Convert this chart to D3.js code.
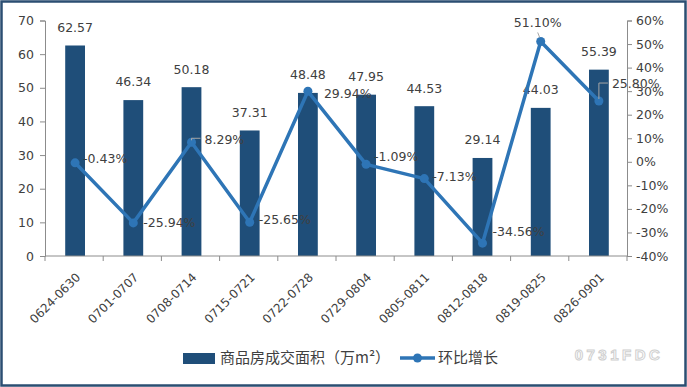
<!DOCTYPE html>
<html>
<head>
<meta charset="utf-8">
<script src="https://cdn.jsdelivr.net/npm/d3@7"></script>
<style>
  body { margin: 0; background: #fff; }
  svg { display: block; }
</style>
</head>
<body>
<div id="chart"></div>
<script>
// data
const weeks = ['0624-0630', '0701-0707', '0708-0714', '0715-0721', '0722-0728',
               '0729-0804', '0805-0811', '0812-0818', '0819-0825', '0826-0901'];
const area = [62.57, 46.34, 50.18, 37.31, 48.48, 47.95, 44.53, 29.14, 44.03, 55.39];
const growth = [-0.43, -25.94, 8.29, -25.65, 29.94, -1.09, -7.13, -34.56, 51.10, 25.80];
const leftTicks = [0, 10, 20, 30, 40, 50, 60, 70];
const rightTicks = [-40, -30, -20, -10, 0, 10, 20, 30, 40, 50, 60];

const width = 687, height = 387;
const margin = { top: 20.5, right: 60, bottom: 131, left: 45 };
const barColor = '#1f4e79';
const lineColor = '#2e75b6';
const textColor = '#404040';
const axisColor = '#8c8c8c';
const numFont = '"DejaVu Sans", Verdana, sans-serif';
const cjkFont = '"Noto Sans CJK SC", "Noto Sans", sans-serif';

const svg = d3.select('#chart')
    .append('svg')
    .attr('width', width)
    .attr('height', height);

// outer frame
svg.append('rect')
    .attr('x', 1.5).attr('y', 1.5)
    .attr('width', width - 3).attr('height', height - 3)
    .attr('fill', '#fff')
    .attr('stroke', '#2b4e72')
    .attr('stroke-width', 2.5);

const x = d3.scaleBand()
    .domain(weeks)
    .range([margin.left, width - margin.right]);

const yL = d3.scaleLinear().domain([0, 70]).range([height - margin.bottom, margin.top]);
const yR = d3.scaleLinear().domain([-40, 60]).range([height - margin.bottom, margin.top]);

const barW = x.bandwidth() * 0.34;
const cx = d => x(d) + x.bandwidth() / 2 + 1;

// left axis
const axL = svg.append('g')
    .attr('transform', `translate(${margin.left},0)`)
    .call(d3.axisLeft(yL).tickValues(leftTicks).tickSize(5).tickPadding(6));
// right axis
const axR = svg.append('g')
    .attr('transform', `translate(${width - margin.right},0)`)
    .call(d3.axisRight(yR).tickValues(rightTicks).tickSize(5).tickPadding(4)
        .tickFormat(d => d + '%'));
[axL, axR].forEach(g => {
    g.select('.domain').attr('stroke', axisColor);
    g.selectAll('.tick line').attr('stroke', axisColor);
    g.selectAll('.tick text')
        .attr('fill', textColor)
        .style('font-family', numFont)
        .style('font-size', '12.5px');
});

// bars
svg.append('g').selectAll('rect')
    .data(weeks)
    .join('rect')
    .attr('x', d => cx(d) - barW / 2)
    .attr('width', barW)
    .attr('y', (d, i) => yL(area[i]))
    .attr('height', (d, i) => yL(0) - yL(area[i]))
    .attr('fill', barColor);

// bottom axis (category boundaries)
const baseY = yL(0);
const axB = svg.append('g');
axB.append('line')
    .attr('x1', margin.left).attr('x2', width - margin.right)
    .attr('y1', baseY).attr('y2', baseY)
    .attr('stroke', axisColor);
axB.selectAll('line.tk')
    .data(weeks.concat(['end']))
    .join('line')
    .attr('class', 'tk')
    .attr('x1', (d, i) => margin.left + i * x.bandwidth())
    .attr('x2', (d, i) => margin.left + i * x.bandwidth())
    .attr('y1', baseY).attr('y2', baseY + 5)
    .attr('stroke', axisColor);
axB.selectAll('text')
    .data(weeks)
    .join('text')
    .attr('transform', d => `translate(${cx(d) + 3},${baseY + 19}) rotate(-45)`)
    .attr('text-anchor', 'end')
    .attr('dy', '0.35em')
    .attr('fill', textColor)
    .style('font-family', numFont)
    .style('font-size', '12px')
    .text(d => d);

// bar value labels
svg.append('g').selectAll('text')
    .data(weeks)
    .join('text')
    .attr('x', d => cx(d))
    .attr('y', (d, i) => yL(area[i]) - 18)
    .attr('dy', '0.35em')
    .attr('text-anchor', 'middle')
    .attr('fill', textColor)
    .style('font-family', numFont)
    .style('font-size', '12.5px')
    .text((d, i) => area[i].toFixed(2));

// growth line
const line = d3.line()
    .x((d, i) => cx(weeks[i]))
    .y(d => yR(d));
svg.append('path')
    .datum(growth)
    .attr('d', line)
    .attr('fill', 'none')
    .attr('stroke', lineColor)
    .attr('stroke-width', 3.5)
    .attr('stroke-linejoin', 'round');
svg.append('g').selectAll('circle')
    .data(growth)
    .join('circle')
    .attr('cx', (d, i) => cx(weeks[i]))
    .attr('cy', d => yR(d))
    .attr('r', 4.5)
    .attr('fill', lineColor);

// label placement tweaks (dx, dy from the point), like the excel labels
const labelPos = [
    [8, -4], [10, 0], [13, -3], [9, -3], [16, 2],
    [8, -8], [8, -2], [10, -12], [-3, -19], [13, -17]
];
const leaders = { 2: true, 9: true };
const lab = svg.append('g');
growth.forEach((v, i) => {
    const px = cx(weeks[i]), py = yR(v);
    const [dx, dy] = labelPos[i];
    if (leaders[i]) {
        lab.append('path')
            .attr('d', `M${px},${py - 2}V${py + dy - 1}H${px + dx - 4}`)
            .attr('fill', 'none')
            .attr('stroke', '#a6a6a6')
            .attr('stroke-width', 1);
    }
    if (i === 8) {
        lab.append('line')
            .attr('x1', px - 3).attr('y1', py - 9)
            .attr('x2', px - 1).attr('y2', py - 4)
            .attr('stroke', '#a6a6a6');
    }
    lab.append('text')
        .attr('x', px + dx)
        .attr('y', py + dy)
        .attr('dy', '0.35em')
        .attr('text-anchor', i === 8 ? 'middle' : 'start')
        .attr('fill', textColor)
        .style('font-family', numFont)
        .style('font-size', '12.5px')
        .text(v.toFixed(2) + '%');
});

// legend
const lg = svg.append('g').attr('transform', 'translate(183,358)');
lg.append('rect')
    .attr('x', 0).attr('y', -5)
    .attr('width', 32).attr('height', 11)
    .attr('fill', barColor);
lg.append('text')
    .attr('x', 37).attr('y', 0).attr('dy', '0.35em')
    .attr('fill', textColor)
    .style('font-family', cjkFont)
    .style('font-size', '15px')
    .text('商品房成交面积（万m²）');
lg.append('line')
    .attr('x1', 217).attr('x2', 252)
    .attr('y1', 0).attr('y2', 0)
    .attr('stroke', lineColor).attr('stroke-width', 3.5);
lg.append('circle')
    .attr('cx', 234.5).attr('cy', 0).attr('r', 4.5)
    .attr('fill', lineColor);
lg.append('text')
    .attr('x', 255).attr('y', 0).attr('dy', '0.35em')
    .attr('fill', textColor)
    .style('font-family', cjkFont)
    .style('font-size', '15px')
    .text('环比增长');

// watermark
svg.append('text')
    .attr('x', 619).attr('y', 355).attr('dy', '0.35em')
    .attr('text-anchor', 'middle')
    .attr('fill', '#ffffff')
    .attr('stroke', '#cfcfcf')
    .attr('stroke-width', 1)
    .style('font-family', '"Liberation Sans", Arial, sans-serif')
    .style('font-weight', 'bold')
    .style('font-size', '15px')
    .style('letter-spacing', '3.5px')
    .text('0731FDC');
</script>
</body>
</html>
